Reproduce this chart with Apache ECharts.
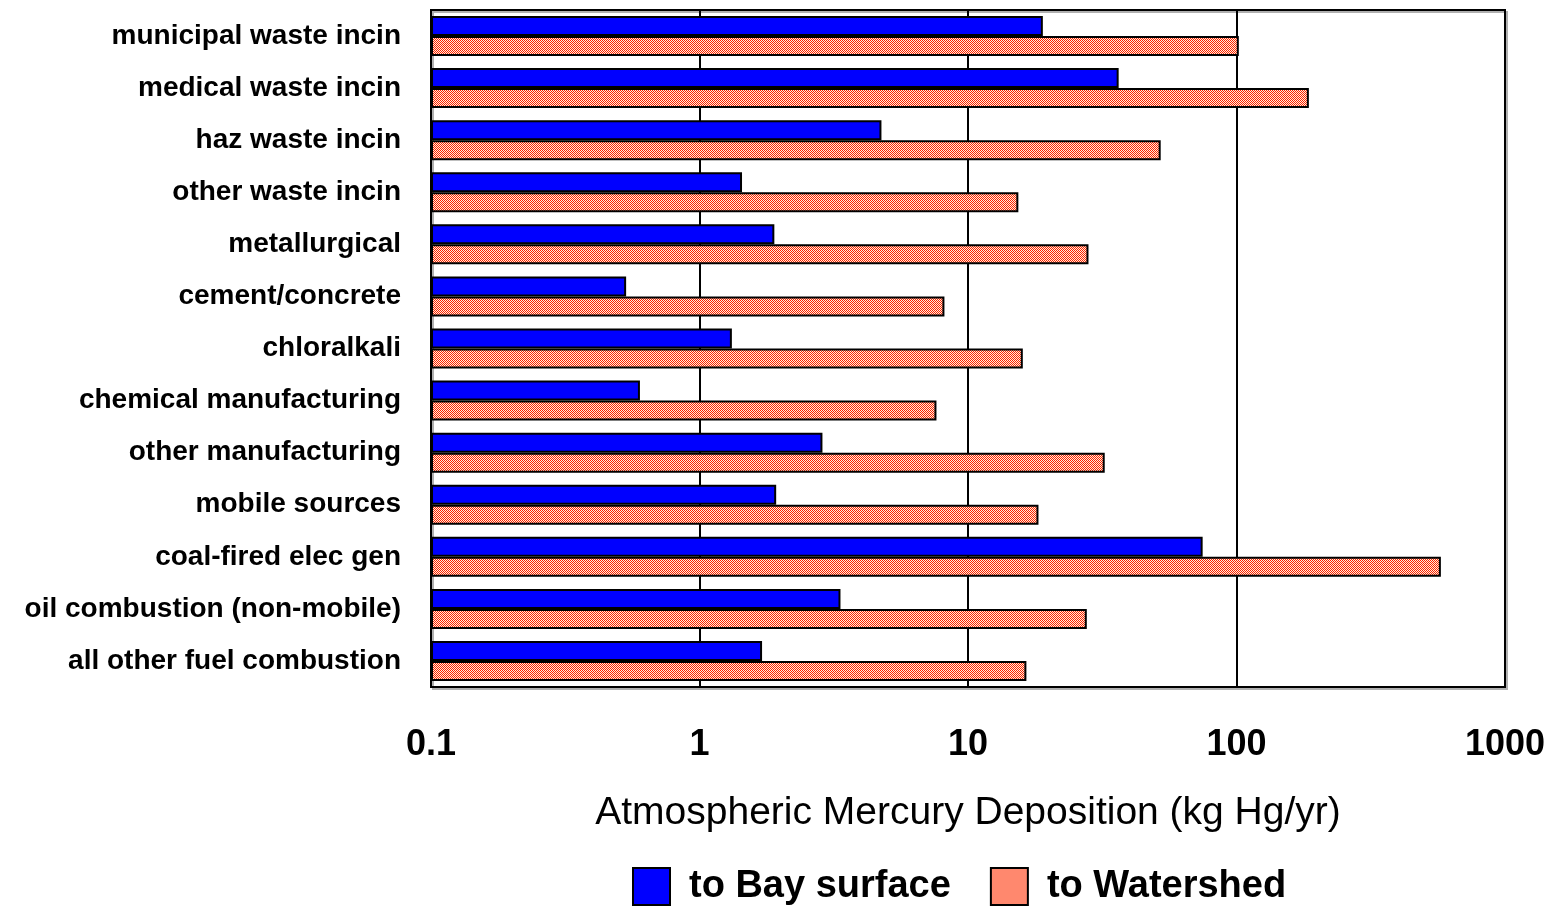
<!DOCTYPE html>
<html>
<head>
<meta charset="utf-8">
<script src="https://cdn.jsdelivr.net/npm/echarts@6/dist/echarts.min.js"></script>
<style>html,body{margin:0;padding:0;background:#fff}#c{width:1555px;height:914px}</style>
</head>
<body>
<div id="c"></div>
<script>
const categories = ["municipal waste incin","medical waste incin","haz waste incin","other waste incin","metallurgical","cement/concrete","chloralkali","chemical manufacturing","other manufacturing","mobile sources","coal-fired elec gen","oil combustion (non-mobile)","all other fuel combustion"];
const bayValues = [19, 36.4, 4.76, 1.44, 1.9, 0.533, 1.32, 0.6, 2.87, 1.93, 74.8, 3.35, 1.71];
const watershedValues = [102, 186, 52.2, 15.4, 28.1, 8.17, 16.0, 7.63, 32.3, 18.3, 577, 27.7, 16.5];
const seriesNames = ["to Bay surface", "to Watershed"];
const xTicks = [0.1, 1, 10, 100, 1000];

const pc = document.createElement('canvas');
pc.width = 2; pc.height = 2;
const g = pc.getContext('2d');
g.fillStyle = '#FF2000'; g.fillRect(0,0,2,2);
g.fillStyle = '#FFF0DC'; g.fillRect(1,0,1,1); g.fillRect(0,1,1,1);
const pattern = {image: pc, repeat: 'repeat'};

const chart = echarts.init(document.getElementById('c'));
chart.setOption({
  animation: false,
  backgroundColor: '#fff',
  textStyle: {fontFamily: 'Liberation Sans, Arial, sans-serif'},
  grid: {left: 431, right: 50, top: 10, bottom: 227, show: true, borderColor: '#000', borderWidth: 2,
         shadowColor: '#b0b0b0', shadowOffsetX: 2, shadowOffsetY: 2, shadowBlur: 0},
  legend: {
    top: 862, left: 627,
    itemWidth: 37, itemHeight: 37, itemGap: 39,
    textStyle: {fontSize: 38, fontWeight: 'bold', color: '#000', padding: [12,0,0,14]},
    data: [
      {name: seriesNames[0], icon: 'rect', itemStyle: {color: '#0000FF', borderColor: '#000', borderWidth: 2}},
      {name: seriesNames[1], icon: 'rect', itemStyle: {color: '#FF886E', borderColor: '#000', borderWidth: 2}}
    ]
  },
  xAxis: {
    type: 'log', logBase: 10, min: xTicks[0], max: xTicks[xTicks.length-1], startValue: xTicks[0],
    name: 'Atmospheric Mercury Deposition (kg Hg/yr)', nameLocation: 'middle', nameGap: 107,
    nameTextStyle: {fontSize: 39, color: '#000'},
    axisLine: {show: true, lineStyle: {color: '#000', width: 2}},
    axisTick: {show: false},
    splitLine: {show: true, lineStyle: {color: '#000', width: 2}},
    axisLabel: {fontSize: 36, fontWeight: 'bold', color: '#000', margin: 40,
      formatter: v => String(v)}
  },
  yAxis: {
    type: 'category', data: categories, inverse: true,
    axisLine: {show: true, lineStyle: {color: '#000', width: 2}},
    axisTick: {show: false},
    axisLabel: {fontSize: 28, fontWeight: 'bold', color: '#000', margin: 30}
  },
  series: [
    {name: seriesNames[0], type: 'bar', data: bayValues, barWidth: 20, barGap: '0%',
     itemStyle: {color: '#0000FF', borderColor: '#000', borderWidth: 2}},
    {name: seriesNames[1], type: 'bar', data: watershedValues, barWidth: 20,
     itemStyle: {color: pattern, borderColor: '#000', borderWidth: 2}}
  ]
});
</script>
</body>
</html>
